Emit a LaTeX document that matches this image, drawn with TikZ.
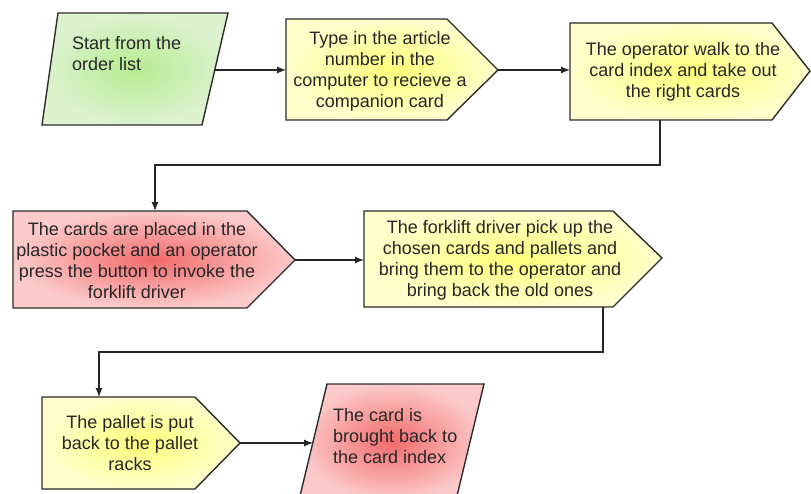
\documentclass[tikz,border=0pt]{standalone}
\usepackage{fontspec}
\setmainfont{Liberation Sans}
\usetikzlibrary{arrows.meta}
\definecolor{bordc}{HTML}{2B2B2B}
\definecolor{grin}{HTML}{B6EC92}
\definecolor{grout}{HTML}{DDF2CF}
\definecolor{yein}{HTML}{FFFF7A}
\definecolor{yeout}{HTML}{FFFFCC}
\definecolor{rein}{HTML}{F26A6A}
\definecolor{reout}{HTML}{FCCACA}
\tikzset{
  boxline/.style={draw=bordc, line width=1.4pt, line join=miter},
  greenbox/.style={boxline, inner color=grin, outer color=grout},
  yellowbox/.style={boxline, inner color=yein, outer color=yeout},
  redbox/.style={boxline, inner color=rein, outer color=reout},
  lbl/.style={font=\fontsize{18}{21}\selectfont, text=black!85, inner sep=0pt},
  conn/.style={draw=black!85, line width=1.2pt, -{Latex[length=9pt,width=7pt]}}
}
\begin{document}
\begin{tikzpicture}[x=1pt,y=-1pt]
\useasboundingbox (0,0) rectangle (811,494);
% shapes
\path[greenbox] (58,13) -- (228,13) -- (202,125) -- (42,125) -- cycle;
\path[yellowbox] (286,19) -- (447,19) -- (498,70) -- (447,120) -- (286,120) -- cycle;
\path[yellowbox] (570,23) -- (772,23) -- (810,71) -- (772,120) -- (570,120) -- cycle;
\path[redbox] (13,211) -- (247,211) -- (295,260) -- (247,308) -- (13,308) -- cycle;
\path[yellowbox] (364,211) -- (613,211) -- (662,258) -- (613,307) -- (364,307) -- cycle;
\path[yellowbox] (42,397) -- (195,397) -- (240,443) -- (195,489) -- (42,489) -- cycle;
\path[redbox] (327,384) -- (484,384) -- (456,500) -- (299,500) -- cycle;
% labels
\node[lbl, align=left, anchor=west] (t1) at (72,54) {Start from the\\order list};
\node[lbl, align=center] (t2) at (380,71) {Type in the article\\number in the\\computer to recieve a\\companion card};
\node[lbl, align=center] (t3) at (683,71.5) {The operator walk to the\\card index and take out\\the right cards};
\node[lbl, align=center] (t4) at (137,261) {The cards are placed in the\\plastic pocket and an operator\\press the button to invoke the\\forklift driver};
\node[lbl, align=center] (t5) at (500,260) {The forklift driver pick up the\\chosen cards and pallets and\\bring them to the operator and\\bring back the old ones};
\node[lbl, align=center] (t6) at (130,443) {The pallet is put\\back to the pallet\\racks};
\node[lbl, align=left, anchor=west] (t7) at (333,436) {The card is\\brought back to\\the card index};
% connector end points
\coordinate (b1out) at (215,70);
\coordinate (b2in) at (286,70);
\coordinate (b2out) at (498,70);
\coordinate (b3in) at (570,70);
\coordinate (b3out) at (660,120);
\coordinate (b4in) at (155,211);
\coordinate (b4out) at (295,260);
\coordinate (b5in) at (364,260);
\coordinate (b5out) at (603,307);
\coordinate (b6in) at (99,397);
\coordinate (b6out) at (240,443);
\coordinate (b7in) at (313,443);
% connectors
\draw[conn] (b1out) -- (b2in);
\draw[conn] (b2out) -- (b3in);
\draw[conn] (b3out) -- (660,165) -| (b4in);
\draw[conn] (b4out) -- (b5in);
\draw[conn] (b5out) -- (603,352) -| (b6in);
\draw[conn] (b6out) -- (b7in);
\end{tikzpicture}
\end{document}
